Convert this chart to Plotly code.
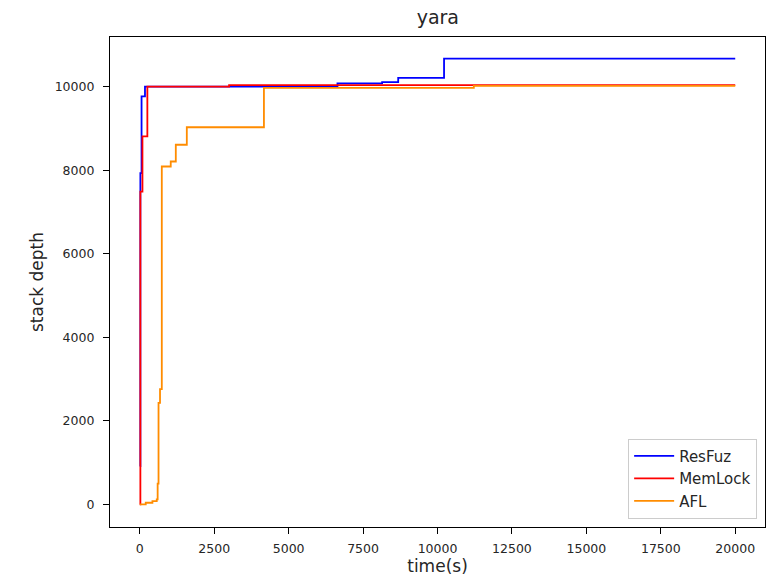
import plotly.graph_objects as go

# ResFuz
resfuz_t = [0, 20, 60, 175, 6640, 8140, 8680, 10220, 20000]
resfuz_v = [920, 7930, 9770, 10000, 10080, 10110, 10210, 10670, 10670]
# MemLock
memlock_t = [0, 20, 90, 255, 3000, 20000]
memlock_v = [0, 7490, 8810, 10000, 10040, 10040]
# AFL
afl_t = [0, 200, 425, 570, 600, 630, 680, 740, 1040, 1210, 1580, 4170, 11220, 20000]
afl_v = [0, 40, 80, 120, 500, 2430, 2760, 8090, 8210, 8610, 9030, 9970, 10020, 10020]

series = [
    ("ResFuz", resfuz_t, resfuz_v, "#0000ff"),
    ("MemLock", memlock_t, memlock_v, "#ff0000"),
    ("AFL", afl_t, afl_v, "#ff8c00"),
]

x_ticks = [0, 2500, 5000, 7500, 10000, 12500, 15000, 17500, 20000]
y_ticks = [0, 2000, 4000, 6000, 8000, 10000]

fig = go.Figure()
for name, t, v, c in series:
    fig.add_trace(go.Scatter(x=t, y=v, mode="lines", name=name,
                             line=dict(color=c, width=1.8, shape="hv")))

font = "DejaVu Sans"
txt = "#262626"
fig.update_layout(
    width=770, height=577,
    margin=dict(l=110, r=5, t=37, b=50),
    paper_bgcolor="white", plot_bgcolor="white",
    font=dict(family=font, color=txt),
    title=dict(text="yara", x=0.5686, xanchor="center", y=0.97, yanchor="middle",
               font=dict(size=19, family=font, color=txt)),
    xaxis=dict(range=[-1000, 21000], tickvals=x_ticks, ticktext=[str(v) for v in x_ticks],
               showgrid=False, zeroline=False, showline=True, mirror=True,
               linecolor="black", linewidth=1.2, ticks="outside", ticklen=6,
               tickcolor="black", ticklabelstandoff=4,
               tickfont=dict(size=12.5, family=font, color=txt),
               title=dict(text="time(s)", font=dict(size=17, family=font, color=txt),
                          standoff=4)),
    yaxis=dict(range=[-540, 11190], tickvals=y_ticks, ticktext=[str(v) for v in y_ticks],
               showgrid=False, zeroline=False, showline=True, mirror=True,
               linecolor="black", linewidth=1.2, ticks="outside", ticklen=6,
               tickcolor="black", ticklabelstandoff=6,
               tickfont=dict(size=12.5, family=font, color=txt),
               title=dict(text="stack depth", font=dict(size=17, family=font, color=txt),
                          standoff=6)),
    legend=dict(x=0.988, xanchor="right", y=0.017, yanchor="bottom",
                bgcolor="white", bordercolor="#cccccc", borderwidth=1,
                font=dict(size=15, family=font, color=txt),
                itemwidth=40, tracegroupgap=0),
    showlegend=True,
)

fig.write_html("out.html")
